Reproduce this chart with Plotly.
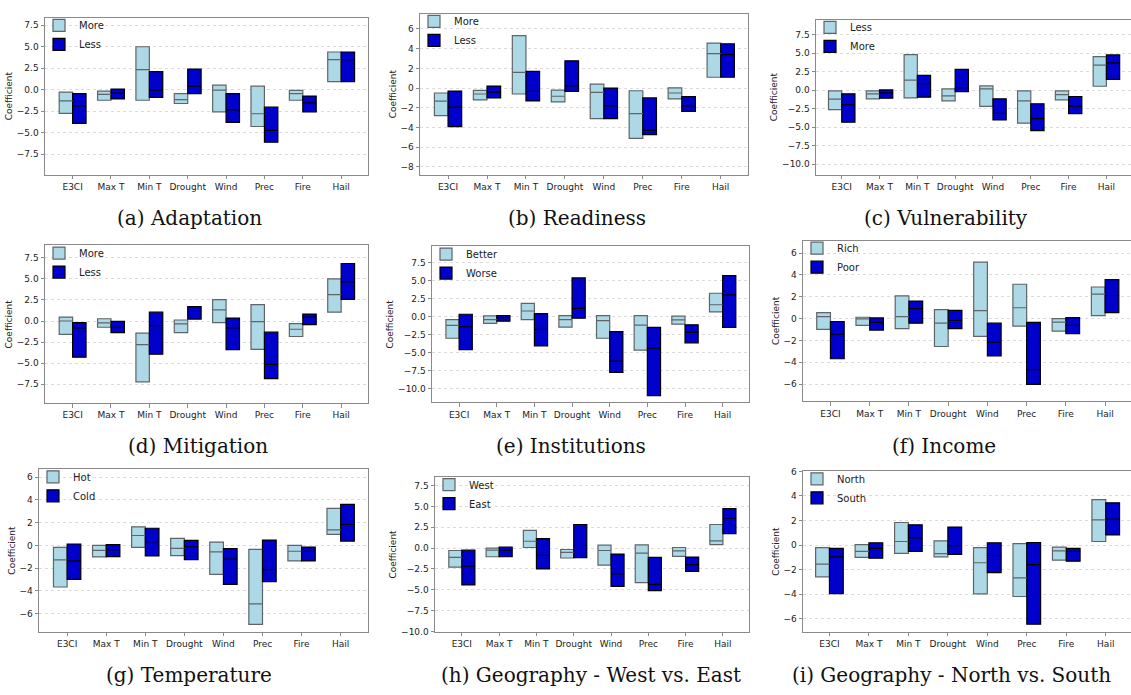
import plotly.graph_objects as go

W, H = 1131, 695

categories = ["E3CI", "Max T", "Min T", "Drought", "Wind", "Prec", "Fire", "Hail"]

# (a) Adaptation
adapt_more_low = [-2.75, -1.22, -1.22, -1.60, -2.56, -4.27, -1.22, 0.95]
adapt_more_high = [-0.27, -0.15, 5.00, -0.46, 0.53, 0.42, -0.08, 4.39]
adapt_more_med = [-1.30, -0.53, 2.33, -1.15, -0.04, -2.79, -0.46, 3.51]
adapt_less_low = [-3.90, -1.07, -0.88, -0.46, -3.78, -6.10, -2.56, 0.95]
adapt_less_high = [-0.46, 0.08, 2.10, 2.40, -0.46, -2.02, -0.73, 4.39]
adapt_less_med = [-1.87, -0.38, -0.04, 0.42, -2.33, -4.73, -1.53, 3.51]

# (b) Readiness
ready_more_low = [-2.80, -1.20, -0.60, -1.40, -3.10, -5.10, -1.10, 1.10]
ready_more_high = [-0.50, -0.23, 5.33, -0.20, 0.40, -0.27, 0.03, 4.57]
ready_more_med = [-1.33, -0.60, 1.60, -0.83, -0.43, -2.60, -0.50, 3.50]
ready_less_low = [-3.90, -1.00, -1.30, -0.33, -3.10, -4.73, -2.37, 1.10]
ready_less_high = [-0.30, 0.20, 1.70, 2.77, 0.00, -1.00, -0.87, 4.50]
ready_less_med = [-1.93, -0.40, -0.33, 0.23, -1.80, -4.30, -1.80, 3.40]

# (c) Vulnerability
vuln_less_low = [-2.63, -1.16, -1.03, -1.43, -2.19, -4.46, -1.29, 0.54]
vuln_less_high = [-0.09, -0.09, 4.82, 0.18, 0.58, -0.09, -0.09, 4.55]
vuln_less_med = [-1.20, -0.49, 1.38, -0.76, 0.18, -1.43, -0.58, 3.39]
vuln_more_low = [-4.33, -1.07, -0.94, -0.18, -4.02, -5.45, -3.17, 1.47]
vuln_more_high = [-0.49, 0.04, 2.00, 2.81, -1.16, -1.83, -0.85, 4.78]
vuln_more_med = [-1.96, -0.36, 0.89, 0.36, -3.13, -3.84, -2.14, 3.70]

# (d) Mitigation
mitig_more_low = [-1.60, -0.74, -7.23, -1.37, -0.20, -3.36, -1.84, 1.05]
mitig_more_high = [0.47, 0.27, -1.45, 0.12, 2.54, 1.95, -0.31, 5.00]
mitig_more_med = [0.00, -0.23, -2.81, -0.35, 1.33, -0.08, -0.98, 3.13]
mitig_less_low = [-4.30, -1.37, -3.95, 0.23, -3.40, -6.84, -0.43, 2.58]
mitig_less_high = [-0.20, -0.04, 1.05, 1.72, 0.35, -1.33, 0.82, 6.84]
mitig_less_med = [-0.82, -0.74, -0.55, 1.13, -0.82, -5.16, 0.47, 4.65]

# (e) Institutions
inst_better_low = [-3.00, -0.95, -0.41, -1.45, -3.00, -4.64, -1.05, 0.64]
inst_better_high = [-0.41, 0.09, 1.82, 0.14, 0.14, 0.14, 0.05, 3.23]
inst_better_med = [-1.23, -0.41, 0.77, -0.41, -0.55, -1.18, -0.45, 1.64]
inst_worse_low = [-4.59, -0.64, -4.05, -0.23, -7.73, -10.95, -3.64, -1.50]
inst_worse_high = [0.32, 0.14, 0.41, 5.36, -2.09, -1.50, -1.14, 5.68]
inst_worse_med = [-1.41, -0.14, -1.77, 1.14, -6.18, -4.36, -2.18, 3.00]

# (f) Income
inc_rich_low = [-1.00, -0.63, -0.93, -2.56, -1.63, -0.69, -1.15, 0.27]
inc_rich_high = [0.54, 0.12, 2.08, 0.81, 5.16, 3.14, 0.00, 2.89]
inc_rich_med = [0.18, -0.03, 0.18, -0.42, 0.72, 0.99, -0.33, 2.23]
inc_poor_low = [-3.68, -1.06, -0.42, -0.93, -3.41, -6.03, -1.39, 0.54]
inc_poor_high = [-0.27, 0.06, 1.60, 0.75, -0.42, -0.36, 0.09, 3.56]
inc_poor_med = [-1.42, -0.36, 0.90, -0.18, -2.17, -4.67, -0.63, 2.11]

# (g) Temperature
temp_hot_low = [-3.67, -1.02, -0.17, -0.90, -2.56, -6.96, -1.37, 0.96]
temp_hot_high = [-0.17, 0.00, 1.63, 0.61, 0.29, -0.35, 0.00, 3.26]
temp_hot_med = [-1.28, -0.44, 0.87, -0.26, -0.58, -5.16, -0.52, 1.37]
temp_cold_low = [-3.00, -0.99, -0.93, -1.25, -3.44, -3.20, -1.37, 0.38]
temp_cold_high = [0.12, 0.06, 1.51, 0.44, -0.29, 0.47, -0.15, 3.61]
temp_cold_med = [-1.37, -0.41, 0.32, -0.12, -1.22, -2.13, -0.52, 1.84]

# (h) Geography - West vs. East
geo_west_low = [-2.29, -1.03, 0.08, -1.18, -2.05, -4.15, -0.99, 0.43]
geo_west_high = [-0.28, 0.00, 2.13, -0.16, 0.36, 0.39, 0.08, 2.84]
geo_west_med = [-1.10, -0.24, 0.83, -0.51, -0.28, -0.59, -0.32, 0.87]
geo_east_low = [-4.42, -1.03, -2.49, -1.14, -4.58, -5.09, -2.80, 1.74]
geo_east_high = [-0.24, 0.12, 1.14, 2.84, -0.71, -1.10, -1.07, 4.74]
geo_east_med = [-2.17, -0.24, -0.87, 0.32, -3.08, -4.34, -1.97, 3.59]

# (i) Geography - North vs. South
geo_north_low = [-2.59, -1.01, -0.67, -0.96, -3.97, -4.19, -1.23, 0.29]
geo_north_high = [-0.21, 0.03, 1.84, 0.35, -0.21, 0.11, -0.16, 3.71]
geo_north_med = [-1.55, -0.51, 0.29, -0.69, -1.44, -2.67, -0.48, 2.05]
geo_south_low = [-3.95, -1.07, -0.51, -0.75, -2.24, -6.45, -1.31, 0.83]
geo_south_high = [-0.27, 0.19, 1.65, 1.47, 0.19, 0.21, -0.27, 3.44]
geo_south_med = [-0.96, -0.27, 0.59, -0.05, -0.85, -1.60, -0.51, 2.11]

LIGHT_FILL, LIGHT_EDGE = "#ADD8E6", "#5f6468"
DARK_FILL, DARK_EDGE = "#0000CD", "#000000"
BAR_W = 0.35

# Panel geometry in pixels: left, right, top, bottom of the axes frame
panels = [
    dict(caption="(a) Adaptation", names=("More", "Less"),
         light=(adapt_more_low, adapt_more_high, adapt_more_med),
         dark=(adapt_less_low, adapt_less_high, adapt_less_med),
         frame=(45, 368, 13, 172), yr=(-9.85, 8.36), xr=(-0.72, 7.70),
         ticks=[-7.5, -5, -2.5, 0, 2.5, 5, 7.5], fmt=".1f", cap=(189, 216)),
    dict(caption="(b) Readiness", names=("More", "Less"),
         light=(ready_more_low, ready_more_high, ready_more_med),
         dark=(ready_less_low, ready_less_high, ready_less_med),
         frame=(420, 748, 9, 172), yr=(-8.77, 7.53), xr=(-0.72, 7.70),
         ticks=[-8, -6, -4, -2, 0, 2, 4, 6], fmt="d", cap=(577, 216)),
    dict(caption="(c) Vulnerability", names=("Less", "More"),
         light=(vuln_less_low, vuln_less_high, vuln_less_med),
         dark=(vuln_more_low, vuln_more_high, vuln_more_med),
         frame=(816, 1131, 15, 172), yr=(-11.4, 9.53), xr=(-0.68, 7.65),
         ticks=[-10, -7.5, -5, -2.5, 0, 2.5, 5, 7.5], fmt=".1f", cap=(946, 216),
         clipped=True),
    dict(caption="(d) Mitigation", names=("More", "Less"),
         light=(mitig_more_low, mitig_more_high, mitig_more_med),
         dark=(mitig_less_low, mitig_less_high, mitig_less_med),
         frame=(45, 368, 244, 404), yr=(-9.77, 8.98), xr=(-0.72, 7.70),
         ticks=[-7.5, -5, -2.5, 0, 2.5, 5, 7.5], fmt=".1f", cap=(198, 447)),
    dict(caption="(e) Institutions", names=("Better", "Worse"),
         light=(inst_better_low, inst_better_high, inst_better_med),
         dark=(inst_worse_low, inst_worse_high, inst_worse_med),
         frame=(432, 749, 245, 403), yr=(-11.86, 9.71), xr=(-0.72, 7.70),
         ticks=[-10, -7.5, -5, -2.5, 0, 2.5, 5, 7.5], fmt=".1f", cap=(571, 447)),
    dict(caption="(f) Income", names=("Rich", "Poor"),
         light=(inc_rich_low, inc_rich_high, inc_rich_med),
         dark=(inc_poor_low, inc_poor_high, inc_poor_med),
         frame=(803, 1131, 239, 402), yr=(-7.57, 7.14), xr=(-0.70, 7.66),
         ticks=[-6, -4, -2, 0, 2, 4, 6], fmt="d", cap=(944, 447),
         clipped=True),
    dict(caption="(g) Temperature", names=("Hot", "Cold"),
         light=(temp_hot_low, temp_hot_high, temp_hot_med),
         dark=(temp_cold_low, temp_cold_high, temp_cold_med),
         frame=(39, 368, 471, 636), yr=(-7.62, 6.71), xr=(-0.72, 7.70),
         ticks=[-6, -4, -2, 0, 2, 4, 6], fmt="d", cap=(189, 680)),
    dict(caption="(h) Geography - West vs. East", names=("West", "East"),
         light=(geo_west_low, geo_west_high, geo_west_med),
         dark=(geo_east_low, geo_east_high, geo_east_med),
         frame=(435, 749, 479, 636), yr=(-10.05, 8.53), xr=(-0.72, 7.70),
         ticks=[-10, -7.5, -5, -2.5, 0, 2.5, 5, 7.5], fmt=".1f", cap=(591, 680)),
    dict(caption="(i) Geography - North vs. South", names=("North", "South"),
         light=(geo_north_low, geo_north_high, geo_north_med),
         dark=(geo_south_low, geo_south_high, geo_south_med),
         frame=(803, 1131, 473, 636), yr=(-7.07, 6.02), xr=(-0.67, 7.64),
         ticks=[-6, -4, -2, 0, 2, 4, 6], fmt="d", cap=(951, 680),
         clipped=True),
]

fig = go.Figure()
layout = dict(
    width=W, height=H, margin=dict(l=0, r=0, t=0, b=0),
    paper_bgcolor="white", plot_bgcolor="white",
    barmode="overlay", showlegend=True,
    font=dict(family="DejaVu Sans", size=9, color="#222"),
    annotations=[],
)

TICK_FONT = dict(family="DejaVu Sans", size=9, color="#222")
xs = list(range(len(categories)))

for k, p in enumerate(panels):
    sfx = "" if k == 0 else str(k + 1)
    xref, yref = "x" + sfx, "y" + sfx
    leg = "legend" + sfx
    fl, fr, ft, fb = p["frame"]

    for side, (lo, hi, med), name in (
        (-1, p["light"], p["names"][0]),
        (1, p["dark"], p["names"][1]),
    ):
        fill, edge = (LIGHT_FILL, LIGHT_EDGE) if side < 0 else (DARK_FILL, DARK_EDGE)
        centers = [i + side * BAR_W / 2 for i in xs]
        fig.add_trace(go.Bar(
            x=centers, y=[h - l for l, h in zip(lo, hi)], base=lo, width=BAR_W,
            marker=dict(color=fill, line=dict(color=edge, width=1.2)),
            name=name, xaxis=xref, yaxis=yref, legend=leg,
        ))
        mx, my = [], []
        for c, m in zip(centers, med):
            mx += [c - BAR_W / 2, c + BAR_W / 2, None]
            my += [m, m, None]
        fig.add_trace(go.Scatter(
            x=mx, y=my, mode="lines", line=dict(color=edge, width=1.2),
            showlegend=False, hoverinfo="skip", xaxis=xref, yaxis=yref,
        ))

    layout["xaxis" + sfx] = dict(
        domain=[fl / W, fr / W], anchor=yref, range=list(p["xr"]),
        tickmode="array", tickvals=xs, ticktext=categories,
        showgrid=False, zeroline=False,
        showline=True, mirror=True, linecolor="#8a8a8a", linewidth=1,
        ticks="outside", ticklen=3.5, tickcolor="#8a8a8a", tickfont=TICK_FONT,
    )
    layout["yaxis" + sfx] = dict(
        domain=[1 - fb / H, 1 - ft / H], anchor=xref, range=list(p["yr"]),
        tickmode="array", tickvals=p["ticks"], tickformat=p["fmt"],
        showgrid=True, gridcolor="#dcdcdc", griddash="dot", gridwidth=1,
        zeroline=False,
        showline=True, mirror=not p.get("clipped", False),
        linecolor="#8a8a8a", linewidth=1,
        ticks="outside", ticklen=3.5, tickcolor="#8a8a8a", tickfont=TICK_FONT,
        title=dict(text="Coefficient", font=dict(family="DejaVu Sans", size=9, color="#222"),
                   standoff=2),
    )
    layout[leg] = dict(
        x=(fl - 6) / W, y=1 - (ft - 7) / H, xanchor="left", yanchor="top",
        bgcolor="rgba(255,255,255,0)", borderwidth=0,
        font=dict(family="DejaVu Sans", size=10, color="#222"),
        tracegroupgap=0, itemwidth=30,
    )
    cx, cy = p["cap"]
    layout["annotations"].append(dict(
        text=p["caption"], x=cx / W, y=1 - cy / H, xref="paper", yref="paper",
        xanchor="center", yanchor="middle", showarrow=False,
        font=dict(family="DejaVu Serif", size=20, color="#111"),
    ))

fig.update_layout(**layout)
fig.write_html("out.html")
